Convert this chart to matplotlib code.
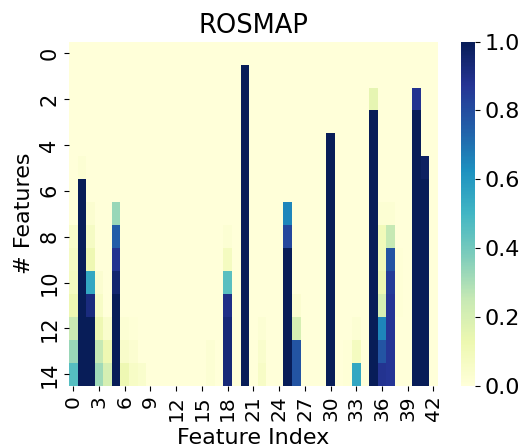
import numpy as np
import matplotlib
matplotlib.use("Agg")
import matplotlib.pyplot as plt
import seaborn as sns

N_ROWS = 15
N_COLS = 43

# non-zero feature columns, values for rows 0..14
f0 = [0, 0, 0, 0, 0, 0, 0, 0, 0.05, 0.07, 0.08, 0.12, 0.24, 0.33, 0.46]
f1 = [0, 0, 0, 0, 0, 0.02, 1, 1, 1, 1, 1, 1, 1, 1, 1]
f2 = [0, 0, 0, 0, 0, 0, 0, 0.03, 0.07, 0.12, 0.55, 0.92, 1, 1, 1]
f3 = [0, 0, 0, 0, 0, 0, 0, 0, 0, 0, 0.03, 0.06, 0.12, 0.25, 0.32]
f4 = [0, 0, 0, 0, 0, 0, 0, 0, 0, 0, 0, 0, 0.04, 0.12, 0.2]
f5 = [0, 0, 0, 0, 0, 0, 0, 0.33, 0.75, 0.88, 0.95, 1, 1, 1, 1]
f6 = [0, 0, 0, 0, 0, 0, 0, 0, 0, 0, 0, 0, 0.02, 0.05, 0.12]
f7 = [0, 0, 0, 0, 0, 0, 0, 0, 0, 0, 0, 0, 0.01, 0.03, 0.06]
f8 = [0, 0, 0, 0, 0, 0, 0, 0, 0, 0, 0, 0, 0, 0, 0.04]
f16 = [0, 0, 0, 0, 0, 0, 0, 0, 0, 0, 0, 0, 0, 0.02, 0.02]
f18 = [0, 0, 0, 0, 0, 0, 0, 0, 0.02, 0.08, 0.45, 0.9, 0.93, 0.93, 0.93]
f20 = [0, 1, 1, 1, 1, 1, 1, 1, 1, 1, 1, 1, 1, 1, 1]
f22 = [0, 0, 0, 0, 0, 0, 0, 0, 0, 0, 0, 0, 0.02, 0.04, 0.06]
f25 = [0, 0, 0, 0, 0, 0, 0, 0.65, 0.82, 1, 1, 1, 1, 1, 1]
f26 = [0, 0, 0, 0, 0, 0, 0, 0, 0, 0, 0, 0.03, 0.2, 0.78, 0.78]
f30 = [0, 0, 0, 0, 1, 1, 1, 1, 1, 1, 1, 1, 1, 1, 1]
f32 = [0, 0, 0, 0, 0, 0, 0, 0, 0, 0, 0, 0, 0, 0.01, 0.01]
f33 = [0, 0, 0, 0, 0, 0, 0, 0, 0, 0, 0, 0, 0.02, 0.08, 0.55]
f35 = [0, 0, 0.15, 1, 1, 1, 1, 1, 1, 1, 1, 1, 1, 1, 1]
f36 = [0, 0, 0, 0, 0, 0, 0, 0.02, 0.1, 0.1, 0.12, 0.2, 0.65, 0.78, 0.88]
f37 = [0, 0, 0, 0, 0, 0, 0, 0.02, 0.25, 0.78, 0.85, 0.87, 0.87, 0.87, 0.87]
f38 = [0, 0, 0, 0, 0, 0, 0, 0, 0, 0.01, 0.01, 0.01, 0, 0, 0]
f40 = [0, 0, 0.88, 1, 1, 1, 1, 1, 1, 1, 1, 1, 1, 1, 1]
f41 = [0, 0, 0, 0, 0, 0.98, 1, 1, 1, 1, 1, 1, 1, 1, 1]

columns = {0: f0, 1: f1, 2: f2, 3: f3, 4: f4, 5: f5, 6: f6, 7: f7, 8: f8,
           16: f16, 18: f18, 20: f20, 22: f22, 25: f25, 26: f26, 30: f30,
           32: f32, 33: f33, 35: f35, 36: f36, 37: f37, 38: f38, 40: f40, 41: f41}

data = np.zeros((N_ROWS, N_COLS))
for c, vals in columns.items():
    data[:, c] = vals

fig = plt.figure(figsize=(5.23, 4.48), dpi=100)
ax = fig.add_axes([0.132, 0.139, 0.705, 0.768])
cax = fig.add_axes([0.881, 0.139, 0.027, 0.768])

sns.heatmap(data, ax=ax, cbar_ax=cax, cmap="YlGnBu", vmin=0, vmax=1,
            xticklabels=3, yticklabels=2)

ax.set_xticklabels(ax.get_xticklabels(), rotation=90, fontsize=14.5)
ax.set_yticklabels(ax.get_yticklabels(), rotation=90, fontsize=15)
ax.set_xlabel("Feature Index", fontsize=16)
ax.xaxis.set_label_coords(0.5, -0.122)
ax.set_ylabel("# Features", fontsize=16)
ax.set_title("ROSMAP", fontsize=18.5)
cax.tick_params(labelsize=16)

fig.savefig("out.png", dpi=100)
